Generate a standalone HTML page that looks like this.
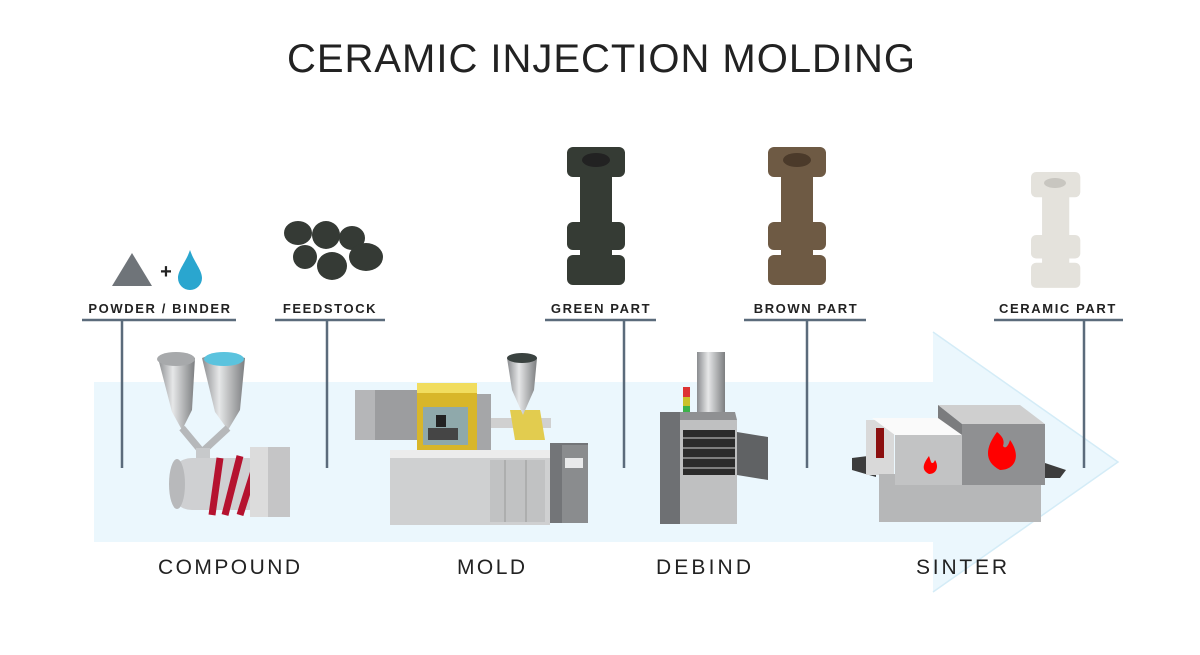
<!DOCTYPE html>
<html><head><meta charset="utf-8"><style>
html,body{margin:0;padding:0;background:#fff;width:1200px;height:655px;overflow:hidden}
svg{display:block}
text{font-family:"Liberation Sans","DejaVu Sans",sans-serif}
</style></head><body>
<svg width="1200" height="655" viewBox="0 0 1200 655" xmlns="http://www.w3.org/2000/svg">
<defs>
<linearGradient id="steel" x1="0" x2="1"><stop offset="0" stop-color="#8a8c8f"/><stop offset=".4" stop-color="#e6e7e8"/><stop offset="1" stop-color="#7c7e80"/></linearGradient>
<g id="part">
 <rect x="0" y="0" width="58" height="30" rx="6"/>
 <rect x="13" y="28" width="32" height="50"/>
 <rect x="0" y="75" width="58" height="28" rx="6"/>
 <rect x="13" y="100" width="32" height="12"/>
 <rect x="0" y="108" width="58" height="30" rx="6"/>
</g>
</defs>
<!-- arrow -->
<path d="M94 382 H933 V332 L1118 462 L933 592 V542 H94 Z" fill="#ebf7fd"/>
<path d="M933 332 L1118 462 L933 592" fill="none" stroke="#d4ecf7" stroke-width="1.5"/>

<text x="287" y="72" font-size="40" textLength="628" lengthAdjust="spacing" fill="#222">CERAMIC INJECTION MOLDING</text>

<!-- label lines -->
<g stroke="#5b6b7b" stroke-width="2.5" fill="none">
<path d="M82 320H236M122 320V468"/>
<path d="M275 320H385M327 320V468"/>
<path d="M545 320H656M624 320V468"/>
<path d="M744 320H866M807 320V468"/>
<path d="M994 320H1123M1084 320V468"/>
</g>
<g font-size="13" font-weight="bold" letter-spacing="1.6" fill="#222" text-anchor="middle">
<text x="160" y="313">POWDER / BINDER</text>
<text x="330" y="313">FEEDSTOCK</text>
<text x="601" y="313">GREEN PART</text>
<text x="806" y="313">BROWN PART</text>
<text x="1058" y="313">CERAMIC PART</text>
</g>
<g font-size="21" fill="#222" lengthAdjust="spacing">
<text x="158" y="574" textLength="142">COMPOUND</text>
<text x="457" y="574" textLength="68">MOLD</text>
<text x="656" y="574" textLength="95">DEBIND</text>
<text x="916" y="574" textLength="91">SINTER</text>
</g>

<!-- powder + binder -->
<path d="M112 286 L132 253 L152 286 Z" fill="#6f7479"/>
<text x="166" y="278" font-size="20" font-weight="bold" text-anchor="middle" fill="#222">+</text>
<path d="M190 250 C186 262 178 270 178 278 A12 12 0 0 0 202 278 C202 270 194 262 190 250Z" fill="#2aa6cf"/>

<!-- feedstock pellets -->
<g fill="#353a35">
<ellipse cx="298" cy="233" rx="14" ry="12"/><ellipse cx="326" cy="235" rx="14" ry="14"/>
<ellipse cx="352" cy="238" rx="13" ry="12"/><ellipse cx="305" cy="257" rx="12" ry="12"/>
<ellipse cx="332" cy="266" rx="15" ry="14"/><ellipse cx="366" cy="257" rx="17" ry="14"/>
</g>

<!-- parts -->
<use href="#part" x="567" y="147" fill="#353b34"/>
<ellipse cx="596" cy="160" rx="14" ry="7" fill="#222"/>
<use href="#part" x="768" y="147" fill="#6e5a44"/>
<ellipse cx="797" cy="160" rx="14" ry="7" fill="#4b3a2a"/>
<g transform="translate(1031,172) scale(0.85,0.84)"><use href="#part" fill="#e4e2dc"/></g>
<ellipse cx="1055" cy="183" rx="11" ry="5" fill="#c8c6c0"/>

<!-- compound machine -->
<path d="M158 358 Q175 350 195 358 L192 410 L182 430 L172 412 Z" fill="url(#steel)"/>
<ellipse cx="176" cy="359" rx="19" ry="7" fill="#a7a9ab"/>
<path d="M202 358 Q220 350 245 358 L240 410 L228 430 L215 412 Z" fill="url(#steel)"/>
<ellipse cx="224" cy="359" rx="20" ry="7" fill="#5bc3de"/>
<path d="M182 428 L202 452 L228 428" stroke="#b6b8ba" stroke-width="7" fill="none"/>
<rect x="196" y="448" width="14" height="14" fill="#c7c9cb"/>
<rect x="170" y="458" width="100" height="52" rx="22" fill="#cfd0d2"/>
<ellipse cx="177" cy="484" rx="8" ry="25" fill="#b8b9bb"/>
<g stroke="#b5122f" stroke-width="7" fill="none">
<path d="M212 515 L220 458"/><path d="M225 515 L240 456"/><path d="M240 515 L258 458 L262 492"/>
</g>
<path d="M256 490 L270 492 L263 503Z" fill="#b5122f"/>
<rect x="250" y="447" width="40" height="70" fill="#dcdcdc"/>
<rect x="268" y="447" width="22" height="70" fill="#c5c5c6"/>

<!-- mold machine -->
<rect x="355" y="390" width="65" height="50" fill="#b5b6b8"/>
<rect x="375" y="390" width="45" height="50" fill="#9c9d9f"/>
<rect x="390" y="450" width="160" height="75" fill="#cfd0d1"/>
<rect x="390" y="450" width="160" height="8" fill="#ececec"/>
<rect x="490" y="460" width="55" height="62" fill="#c1c2c3"/>
<line x1="505" y1="460" x2="505" y2="522" stroke="#999"/><line x1="526" y1="460" x2="526" y2="522" stroke="#999"/>
<rect x="417" y="385" width="60" height="65" fill="#d8b62a"/>
<rect x="417" y="383" width="60" height="10" fill="#f1dd5f"/>
<rect x="423" y="407" width="45" height="38" fill="#8fa9ab"/>
<rect x="428" y="428" width="30" height="12" fill="#454545"/>
<rect x="436" y="415" width="10" height="12" fill="#222"/>
<rect x="477" y="394" width="14" height="56" fill="#a5a6a8"/>
<rect x="491" y="418" width="60" height="10" fill="#d0d0d0"/>
<path d="M510 410 L540 410 L545 440 L515 440Z" fill="#e2cc4f"/>
<path d="M507 358 Q520 352 537 358 L534 390 L523 415 L512 390Z" fill="url(#steel)"/>
<ellipse cx="522" cy="358" rx="15" ry="5" fill="#3a4240"/>
<rect x="550" y="443" width="38" height="80" fill="#737578"/>
<rect x="562" y="445" width="26" height="78" fill="#8a8c8e"/>
<rect x="565" y="458" width="18" height="10" fill="#e9eaeb"/>

<!-- debind oven -->
<rect x="697" y="352" width="28" height="60" fill="url(#steel)"/>
<rect x="683" y="387" width="7" height="10" fill="#d33"/>
<rect x="683" y="397" width="7" height="9" fill="#cbc229"/>
<rect x="683" y="406" width="7" height="10" fill="#3cb24a"/>
<path d="M660 412 L735 412 L737 420 L660 420Z" fill="#8f9092"/>
<rect x="660" y="412" width="20" height="112" fill="#6e7073"/>
<rect x="680" y="420" width="57" height="104" fill="#bfc0c1"/>
<rect x="683" y="430" width="52" height="45" fill="#2b2b2b"/>
<g stroke="#9a9a9a" stroke-width="1.5"><line x1="683" y1="438" x2="735" y2="438"/><line x1="683" y1="448" x2="735" y2="448"/><line x1="683" y1="458" x2="735" y2="458"/><line x1="683" y1="468" x2="735" y2="468"/></g>
<path d="M737 432 L768 437 L768 480 L737 475Z" fill="#606264"/>

<!-- sinter furnace -->
<path d="M852 458 L876 455 L876 477 L852 470Z" fill="#3d3d3d"/>
<path d="M1045 463 L1066 470 L1060 478 L1045 478Z" fill="#3d3d3d"/>
<rect x="866" y="420" width="28" height="55" fill="#d9d9d9"/>
<rect x="876" y="428" width="8" height="30" fill="#8b0f0f"/>
<path d="M872 418 L940 418 L962 435 L895 435Z" fill="#fafafa"/>
<rect x="879" y="474" width="162" height="48" fill="#b6b7b8"/>
<rect x="895" y="435" width="67" height="50" fill="#c2c3c4"/>
<path d="M938 405 L1020 405 L1045 424 L962 424Z" fill="#cfcfcf"/>
<path d="M938 405 L962 424 L962 435 L938 418Z" fill="#7b7c7e"/>
<rect x="962" y="424" width="83" height="61" fill="#8f9092"/>
<path d="M929 456 C923 464 921 470 929 474 C937 474 939 466 935 460 C934 463 932 464 931 462Z" fill="#f00"/>
<path d="M997 432 C985 448 984 462 1000 470 C1016 470 1021 455 1010 440 C1008 447 1005 449 1003 446 C1005 440 1002 436 997 432Z" fill="#f00"/>
</svg>
</body></html>
